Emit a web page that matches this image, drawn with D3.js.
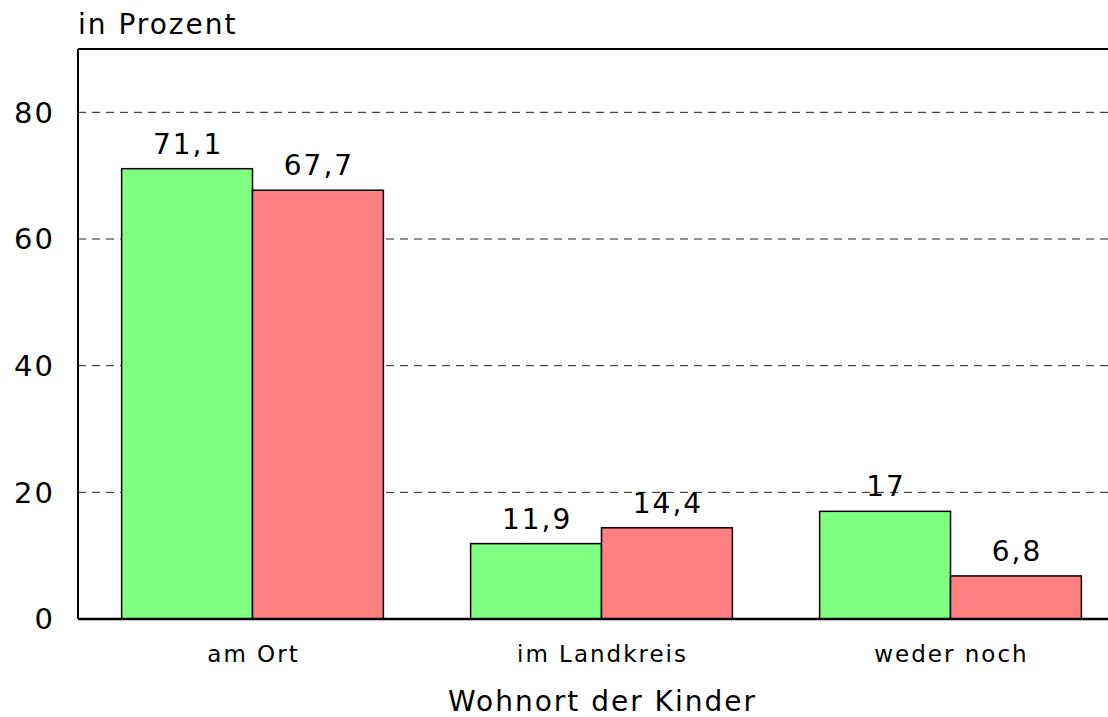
<!DOCTYPE html>
<meta charset="utf-8">
<head>
<script src="https://d3js.org/d3.v7.min.js"></script>
<style>
  body { margin: 0; background: white; }
  text { font-family: "DejaVu Sans", Verdana, sans-serif; fill: #000; letter-spacing: 2px; }
</style>
</head>
<body>
<svg id="chart" width="1108" height="717"></svg>
<script>
// data
var categories = ["am Ort", "im Landkreis", "weder noch"];
var seriesA = [71.1, 11.9, 17];   // green
var seriesB = [67.7, 14.4, 6.8];  // red
var yTicks = [0, 20, 40, 60, 80];

var svg = d3.select("#chart");
var plotLeft = 78, plotTop = 49, plotBottom = 619, plotRight = 1125;

var x = d3.scaleBand()
  .domain(categories)
  .range([plotLeft, plotRight])
  .paddingInner(0.25)
  .paddingOuter(0.125);

var sub = d3.scaleBand()
  .domain([0, 1])
  .range([0, x.bandwidth()]);

var y = d3.scaleLinear()
  .domain([0, 90])
  .range([plotBottom, plotTop]);

// grid lines
svg.append("g")
  .selectAll("line")
  .data(yTicks.filter(d => d > 0))
  .enter()
  .append("line")
  .attr("x1", plotLeft)
  .attr("x2", plotRight)
  .attr("y1", d => y(d))
  .attr("y2", d => y(d))
  .attr("stroke", "#222")
  .attr("stroke-width", 1)
  .attr("stroke-dasharray", "8,6");

// y tick labels
svg.append("g")
  .selectAll("text")
  .data(yTicks)
  .enter()
  .append("text")
  .attr("x", 55)
  .attr("y", d => y(d))
  .attr("dy", "0.36em")
  .attr("text-anchor", "end")
  .style("font-size", "29px")
  .text(d => d);

// bars
var rows = [];
categories.forEach(function(c, i) {
  rows.push({cat: c, s: 0, v: seriesA[i], color: "#80ff80"});
  rows.push({cat: c, s: 1, v: seriesB[i], color: "#ff8080"});
});

svg.append("g")
  .selectAll("rect")
  .data(rows)
  .enter()
  .append("rect")
  .attr("x", d => x(d.cat) + sub(d.s))
  .attr("y", d => y(d.v))
  .attr("width", sub.bandwidth())
  .attr("height", d => y(0) - y(d.v))
  .attr("fill", d => d.color)
  .attr("stroke", "#000")
  .attr("stroke-width", 1.5);

// value labels
svg.append("g")
  .selectAll("text")
  .data(rows)
  .enter()
  .append("text")
  .attr("x", d => x(d.cat) + sub(d.s) + sub.bandwidth() / 2 + 1)
  .attr("y", d => y(d.v) - 15)
  .attr("text-anchor", "middle")
  .style("font-size", "28px")
  .text(d => String(d.v).replace(".", ","));

// frame: left, top, bottom
svg.append("line")
  .attr("x1", plotLeft).attr("x2", plotLeft)
  .attr("y1", plotTop).attr("y2", plotBottom)
  .attr("stroke", "#000").attr("stroke-width", 2);
svg.append("line")
  .attr("x1", plotLeft).attr("x2", plotRight)
  .attr("y1", plotTop).attr("y2", plotTop)
  .attr("stroke", "#000").attr("stroke-width", 2);
svg.append("line")
  .attr("x1", plotLeft).attr("x2", plotRight)
  .attr("y1", plotBottom).attr("y2", plotBottom)
  .attr("stroke", "#000").attr("stroke-width", 2.5);

// category labels
svg.append("g")
  .selectAll("text")
  .data(categories)
  .enter()
  .append("text")
  .attr("x", d => x(d) + x.bandwidth() / 2 + 1)
  .attr("y", 662)
  .attr("text-anchor", "middle")
  .style("font-size", "23px")
  .text(d => d);

// axis titles
svg.append("text")
  .attr("x", 78)
  .attr("y", 34)
  .style("font-size", "28px")
  .text("in Prozent");

svg.append("text")
  .attr("x", (plotLeft + plotRight) / 2 + 1)
  .attr("y", 711)
  .attr("text-anchor", "middle")
  .style("font-size", "28px")
  .text("Wohnort der Kinder");
</script>
</body>
